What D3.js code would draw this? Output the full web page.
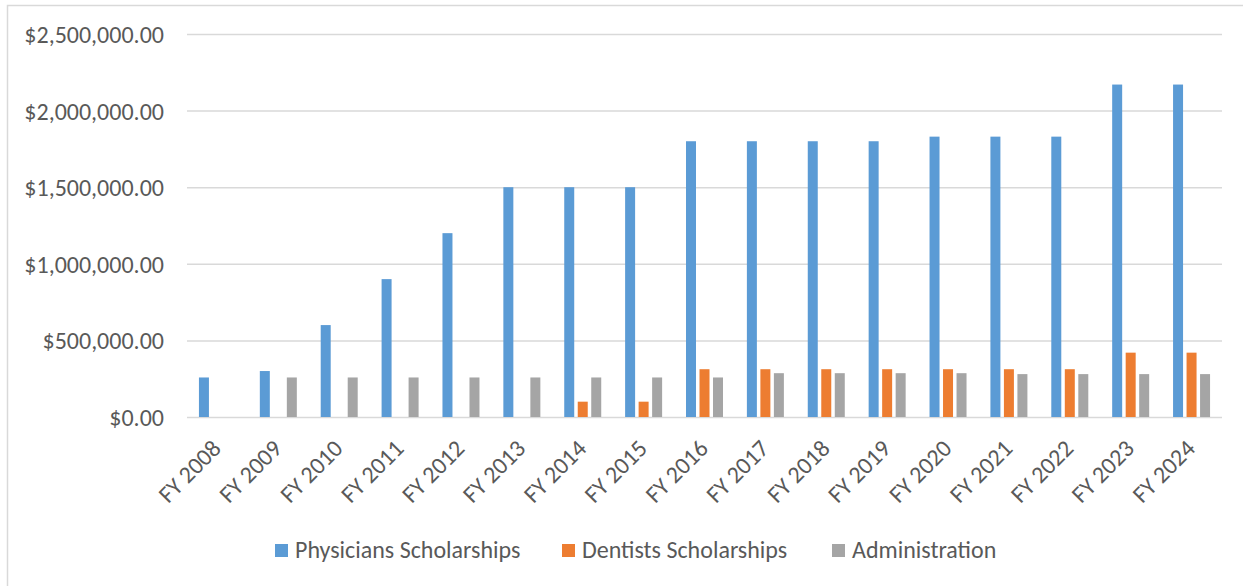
<!DOCTYPE html>
<html>
<head>
<meta charset="utf-8">
<script src="https://cdn.jsdelivr.net/npm/d3@7"></script>
<style>
  body { margin: 0; background: #fff; }
  .chart text { font-family: Carlito, Calibri, "Open Sans", sans-serif; fill: #595959; }
</style>
</head>
<body>
<div class="chart"></div>
<script>
const categories = ["FY 2008", "FY 2009", "FY 2010", "FY 2011", "FY 2012", "FY 2013", "FY 2014", "FY 2015",
  "FY 2016", "FY 2017", "FY 2018", "FY 2019", "FY 2020", "FY 2021", "FY 2022", "FY 2023", "FY 2024"];

const physicians = [258000, 300000, 600000, 900000, 1200000, 1500000, 1500000, 1500000,
  1800000, 1800000, 1800000, 1800000, 1830000, 1830000, 1830000, 2170000, 2170000];
const dentists = [null, null, null, null, null, null, 100000, 100000,
  312000, 312000, 312000, 312000, 312000, 312000, 312000, 420000, 420000];
const administration = [null, 258000, 258000, 258000, 258000, 258000, 258000, 258000,
  258000, 286000, 286000, 286000, 286000, 280000, 280000, 280000, 280000];

const seriesNames = ["Physicians Scholarships", "Dentists Scholarships", "Administration"];
const seriesColors = ["#5b9bd5", "#ed7d31", "#a5a5a5"];
const yTicks = [0, 500000, 1000000, 1500000, 2000000, 2500000];

const width = 1243, height = 586;
const margin = { top: 34, right: 21, bottom: 169, left: 187 };
const plotW = width - margin.left - margin.right,
  plotH = height - margin.top - margin.bottom;
const fontSize = 24;

const svg = d3.select(".chart")
  .append("svg")
  .attr("width", width)
  .attr("height", height);

// chart frame
svg.append("rect")
  .attr("x", 7.5).attr("y", 5.5)
  .attr("width", width + 10).attr("height", height)
  .attr("fill", "none")
  .attr("stroke", "#d9d9d9")
  .attr("stroke-width", 1.5);

const g = svg.append("g")
  .attr("transform", "translate(" + margin.left + "," + margin.top + ")");

const x0 = d3.scaleBand().domain(categories).range([0, plotW]).padding(0);
const groupW = 37;
const x1 = d3.scaleBand().domain(d3.range(seriesNames.length))
  .range([0, groupW]).paddingInner(0.26).paddingOuter(0);
const y = d3.scaleLinear().domain([0, 2500000]).range([plotH, 0]);

const fmt = d3.format("$,.2f");

// gridlines + y labels
const yAxis = d3.axisLeft(y).tickValues(yTicks).tickSize(-plotW).tickPadding(23)
  .tickFormat(d => fmt(d));
const yG = g.append("g").call(yAxis);
yG.select(".domain").remove();
yG.selectAll(".tick line").attr("stroke", "#d9d9d9").attr("stroke-width", 1.5);
yG.selectAll(".tick text").style("font-size", fontSize + "px").attr("dy", "0.35em");

// bars
const allSeries = [physicians, dentists, administration];
const groups = g.selectAll(".category")
  .data(categories)
  .enter()
  .append("g")
  .attr("class", "category")
  .attr("transform", d => "translate(" + (x0(d) + (x0.bandwidth() - groupW) / 2) + ",0)");

groups.selectAll("rect")
  .data((d, i) => allSeries.map((s, k) => ({ k: k, value: s[i] })).filter(v => v.value != null))
  .enter()
  .append("rect")
  .attr("x", d => x1(d.k))
  .attr("width", x1.bandwidth())
  .attr("y", d => y(d.value))
  .attr("height", d => y(0) - y(d.value))
  .attr("fill", d => seriesColors[d.k]);

// x labels, rotated
g.append("g")
  .selectAll("text")
  .data(categories)
  .enter()
  .append("text")
  .attr("transform", d => "translate(" + (x0(d) + x0.bandwidth() / 2 + 5) + "," + (plotH + 33) + ") rotate(-45)")
  .attr("text-anchor", "end")
  .style("font-size", fontSize + "px")
  .text(d => d);

// legend
const legendX = [275, 562, 832];
const legend = svg.append("g")
  .selectAll("g")
  .data(seriesNames)
  .enter()
  .append("g")
  .attr("transform", (d, i) => "translate(" + legendX[i] + ",544)");

legend.append("rect")
  .attr("width", 13).attr("height", 13)
  .attr("fill", (d, i) => seriesColors[i]);

legend.append("text")
  .attr("x", 20).attr("y", 14)
  .style("font-size", fontSize + "px")
  .text(d => d);
</script>
</body>
</html>
